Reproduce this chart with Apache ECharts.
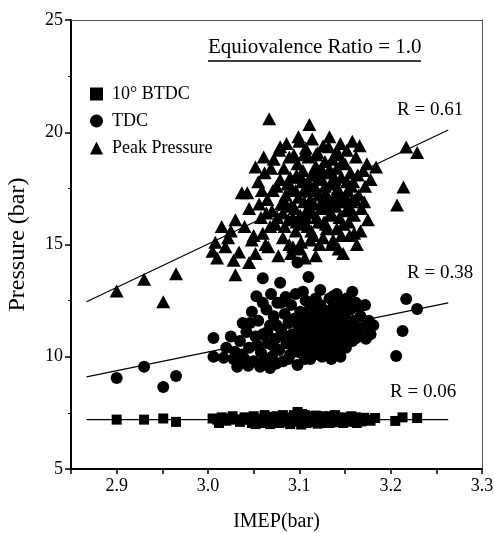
<!DOCTYPE html>
<html>
<head>
<meta charset="utf-8">
<script src="https://cdn.jsdelivr.net/npm/echarts@6/dist/echarts.min.js"></script>
<style>
html, body { margin: 0; padding: 0; background: #fff; }
#chart1 { width: 495px; height: 533px; }
</style>
</head>
<body>
<div id="chart1"></div>
<script>
// data: [IMEP, pressure]
var btdcPoints = [
    [2.900,7.20],[2.930,7.20],[2.951,7.25],[2.965,7.10],[3.183,7.27],[3.205,7.14],[3.213,7.30],[3.229,7.27],[3.098,7.54],
    [3.005,7.25],[3.010,7.20],[3.015,7.30],[3.020,7.15],[3.025,7.25],[3.030,7.20],[3.035,7.10],[3.040,7.30],[3.045,7.20],
    [3.048,7.05],[3.050,7.35],[3.054,7.15],[3.057,7.25],[3.060,7.05],[3.062,7.40],[3.065,7.20],[3.068,7.00],[3.070,7.30],
    [3.072,7.15],[3.075,7.35],[3.078,7.05],[3.080,7.25],[3.082,7.40],[3.085,7.10],[3.087,7.30],[3.090,7.00],[3.092,7.20],
    [3.094,7.40],[3.096,7.10],[3.100,7.30],[3.102,6.98],[3.104,7.20],[3.106,7.40],[3.108,7.05],[3.110,7.25],[3.112,7.35],
    [3.114,7.10],[3.116,7.20],[3.118,7.38],[3.120,7.02],[3.122,7.28],[3.124,7.15],[3.126,7.35],[3.128,7.05],[3.130,7.25],
    [3.132,7.15],[3.134,7.35],[3.136,7.08],[3.138,7.22],[3.140,7.32],[3.142,7.12],[3.145,7.25],[3.148,7.05],[3.150,7.30],
    [3.153,7.15],[3.156,7.25],[3.159,7.10],[3.162,7.30],[3.165,7.20],[3.168,7.12],[3.171,7.28],[3.175,7.20],[3.178,7.15],
    [3.012,7.05],[3.027,7.35],[3.038,7.20],[3.052,7.00],[3.067,7.32],[3.077,7.18],[3.088,7.08],[3.098,7.22],[3.103,7.45],
    [3.109,7.12],[3.115,7.30],[3.121,7.15],[3.127,7.22],[3.133,7.05],[3.139,7.40],[3.144,7.10],[3.151,7.22],[3.157,7.35],
    [3.163,7.05],[3.170,7.18]
];
var tdcPoints = [
    [2.900,9.05],[2.930,9.55],[2.951,8.65],[2.965,9.14],[3.006,10.83],[3.217,12.57],[3.229,12.13],[3.213,11.15],[3.206,10.03],
    [3.181,11.40],[3.098,14.20],[3.060,13.50],[3.079,13.30],[3.110,13.55],[3.123,12.97],[3.085,12.66],[3.060,12.40],[3.038,11.50],
    [3.006,10.00],[3.017,9.95],[3.032,9.55],[3.057,9.55],[3.068,9.50],[3.098,9.63],[3.158,12.90],[3.145,10.00],
    [3.020,10.40],[3.025,10.90],[3.030,10.20],[3.035,10.70],[3.040,9.90],[3.042,11.10],[3.045,10.40],[3.048,12.00],[3.050,9.80],
    [3.052,10.90],[3.055,11.60],[3.058,10.20],[3.060,11.00],[3.062,9.90],[3.064,12.10],[3.066,10.60],[3.068,11.40],[3.070,10.00],
    [3.072,11.80],[3.074,10.80],[3.076,12.40],[3.078,10.30],[3.080,11.20],[3.082,9.80],[3.084,11.90],[3.086,10.60],[3.088,11.50],
    [3.090,10.10],[3.091,12.30],[3.092,11.00],[3.094,10.50],[3.095,11.70],[3.096,12.80],[3.098,10.90],[3.099,11.40],[3.100,10.20],
    [3.101,12.00],[3.102,11.10],[3.104,10.60],[3.105,11.80],[3.106,9.90],[3.107,12.50],[3.108,11.30],[3.109,10.80],[3.110,11.60],
    [3.111,10.30],[3.112,12.20],[3.113,11.00],[3.114,10.70],[3.115,11.90],[3.116,10.40],[3.117,11.40],[3.118,12.60],[3.119,10.90],
    [3.120,11.20],[3.121,10.10],[3.122,11.70],[3.123,12.30],[3.124,10.60],[3.125,11.50],[3.126,11.00],[3.127,10.40],[3.128,12.00],
    [3.129,11.30],[3.130,10.80],[3.131,11.80],[3.132,10.20],[3.133,12.60],[3.134,11.10],[3.135,10.50],[3.136,11.60],[3.137,12.20],
    [3.138,10.90],[3.139,11.40],[3.140,10.30],[3.141,12.80],[3.142,11.00],[3.143,11.70],[3.144,10.60],[3.146,12.40],[3.147,11.20],
    [3.148,10.80],[3.150,11.90],[3.151,10.40],[3.152,12.60],[3.153,11.40],[3.155,11.00],[3.156,12.10],[3.158,10.70],[3.160,11.60],
    [3.162,12.40],[3.163,11.20],[3.165,10.90],[3.167,11.80],[3.170,11.30],[3.173,10.80],[3.176,11.60],
    [3.085,10.90],[3.093,11.60],[3.097,10.40],[3.103,11.50],[3.106,10.90],[3.110,12.00],[3.115,11.20],[3.119,11.70],[3.122,10.80],
    [3.126,12.10],[3.130,11.50],[3.133,10.90],[3.137,11.90],[3.140,11.20],[3.144,12.00],[3.148,11.50],[3.152,10.90],[3.157,11.30],
    [3.161,10.80],[3.166,12.20],[3.075,11.40],[3.080,12.40],[3.071,10.50],[3.065,11.10],[3.054,10.50],[3.046,11.50],[3.037,10.10],
    [3.028,9.90],[3.112,9.90],[3.125,10.00],[3.135,9.90],[3.172,12.30],[3.178,11.00],
    [3.044,9.60],[3.075,9.70],[3.088,9.90],[3.053,12.70],[3.069,12.80],[3.104,12.90],[3.137,12.70],[3.149,12.30]
];
var peakPoints = [
    [2.900,12.93],[2.930,13.45],[2.951,12.45],[2.965,13.70],[3.030,13.65],[3.067,20.60],[3.111,20.35],[3.184,18.45],[3.207,16.76],
    [3.214,17.56],[3.217,19.34],[3.229,19.10],[3.037,17.30],[3.052,18.45],[3.061,18.90],[3.079,19.35],[3.099,19.80],[3.132,19.35],
    [3.008,15.10],[3.010,14.40],[3.019,14.90],[3.005,14.70],[3.034,14.67],[3.045,14.20],[3.025,15.60],[3.030,16.10],[3.022,15.30],
    [3.040,15.80],[3.045,16.60],[3.048,15.20],[3.052,14.60],[3.055,17.80],[3.058,16.20],[3.060,15.50],[3.062,18.20],[3.065,17.00],
    [3.066,14.90],[3.070,16.50],[3.072,18.80],[3.074,15.90],[3.075,17.60],[3.078,19.20],[3.080,16.80],[3.082,15.30],[3.083,18.40],
    [3.085,17.20],[3.086,19.50],[3.088,16.10],[3.090,18.00],[3.091,14.60],[3.092,17.50],[3.094,19.00],[3.095,16.60],[3.096,15.60],
    [3.098,18.60],[3.099,17.10],[3.100,19.60],[3.101,16.30],[3.102,15.10],[3.103,17.80],[3.104,18.30],[3.105,16.90],[3.106,14.40],
    [3.107,19.30],[3.108,17.40],[3.109,15.80],[3.110,18.90],[3.111,16.50],[3.112,17.00],[3.113,18.10],[3.114,19.70],[3.115,15.40],
    [3.116,16.80],[3.117,17.60],[3.118,18.50],[3.119,16.20],[3.120,19.10],[3.121,17.20],[3.122,15.00],[3.123,18.00],[3.124,16.60],
    [3.125,17.90],[3.126,19.40],[3.127,16.00],[3.128,18.70],[3.129,17.30],[3.130,15.70],[3.131,18.20],[3.132,16.90],[3.133,19.80],
    [3.134,17.70],[3.135,16.40],[3.136,18.80],[3.137,15.20],[3.138,17.10],[3.139,19.00],[3.140,16.70],[3.141,18.40],[3.142,17.50],
    [3.143,14.80],[3.144,16.20],[3.145,19.50],[3.146,18.00],[3.147,17.00],[3.148,15.90],[3.150,18.60],[3.151,16.50],[3.152,19.20],
    [3.153,17.40],[3.155,15.40],[3.156,18.20],[3.157,16.90],[3.158,19.60],[3.159,17.80],[3.160,16.30],[3.162,18.90],[3.163,15.00],
    [3.165,17.20],[3.166,19.40],[3.168,16.60],[3.170,18.30],[3.172,17.60],[3.175,16.10],
    [3.050,15.40],[3.063,15.00],[3.077,14.50],[3.084,15.80],[3.093,14.90],[3.097,16.00],
    [3.082,16.40],[3.087,17.70],[3.093,16.20],[3.097,18.10],[3.103,15.90],[3.106,17.50],[3.109,16.60],[3.113,15.60],[3.116,18.10],
    [3.119,17.40],[3.121,16.00],[3.124,18.40],[3.127,17.10],[3.129,15.90],[3.131,16.60],[3.134,18.30],[3.137,16.80],[3.139,17.90],
    [3.141,15.70],[3.144,17.30],[3.147,18.70],[3.149,16.90],[3.152,17.80],[3.154,16.00],[3.157,17.60],[3.161,17.00],[3.164,18.10],
    [3.167,15.60],[3.071,17.40],[3.076,16.20],[3.068,15.80],[3.089,15.00],[3.101,14.80],[3.112,15.20],[3.126,15.30],[3.135,15.00],
    [3.148,14.60],[3.160,15.50],[3.118,14.50],[3.171,16.90],[3.174,18.60],[3.178,17.90],[3.056,16.80],[3.043,17.30],[3.028,14.30],
    [3.015,15.80],
    [3.079,17.90],[3.084,16.90],[3.091,16.70],[3.096,17.40],[3.102,18.00],[3.107,16.20],[3.111,17.70],[3.115,16.40],[3.120,17.90],
    [3.125,16.90],[3.128,17.60],[3.133,16.30],[3.138,18.00],[3.143,16.90],[3.146,15.40],[3.151,17.10],[3.156,16.60],[3.064,16.40],
    [3.059,17.40],[3.069,18.40],[3.089,18.90],[3.105,19.00],[3.118,19.00],[3.142,19.10]
];
// fitted lines: x range and y at both ends
var fitX = [2.867, 3.263];
var peakFit = [12.45, 20.10];
var tdcFit = [9.10, 12.40];
var btdcFit = [7.20, 7.20];
var xTicks = [2.9, 3.0, 3.1, 3.2, 3.3];
var seriesNames = ['10° BTDC', 'TDC', 'Peak Pressure'];
var rLabels = ['R = 0.61', 'R = 0.38', 'R = 0.06'];

var font = '"Liberation Serif", "Times New Roman", serif';

function fitLine(ys) {
    return [[fitX[0], ys[0]], [fitX[1], ys[1]]];
}

var chart = echarts.init(document.getElementById('chart1'));
var option = {
    animation: false,
    backgroundColor: '#fff',
    textStyle: { fontFamily: font, color: '#000' },
    grid: { left: 71, right: 13, top: 20, bottom: 64, outerBoundsMode: 'none' },
    legend: {
        orient: 'vertical',
        left: 85,
        top: 80,
        itemWidth: 13,
        itemHeight: 13,
        itemGap: 9,
        textStyle: { fontFamily: font, fontSize: 18, color: '#000', padding: [0, 0, 0, 4] },
        data: [
            { name: seriesNames[0], icon: 'rect' },
            { name: seriesNames[1], icon: 'circle' },
            { name: seriesNames[2], icon: 'triangle' }
        ]
    },
    xAxis: [{
        type: 'value',
        min: 2.85,
        max: 3.3,
        interval: 0.05,
        name: 'IMEP(bar)',
        nameLocation: 'middle',
        nameGap: 43,
        nameTextStyle: { fontFamily: font, fontSize: 20, color: '#000' },
        axisLine: { lineStyle: { color: '#000', width: 2 } },
        axisTick: { show: true, inside: false, length: 5, lineStyle: { color: '#000', width: 1.5 } },
        axisLabel: {
            fontFamily: font, fontSize: 18, color: '#000', margin: 8,
            customValues: xTicks,
            formatter: function (v) { return v.toFixed(1); }
        },
        splitLine: { show: false }
    }, {
        type: 'value',
        position: 'top',
        min: 2.85,
        max: 3.3,
        axisLine: { lineStyle: { color: '#555', width: 1 } },
        axisTick: { show: false },
        axisLabel: { show: false },
        splitLine: { show: false }
    }],
    yAxis: [{
        type: 'value',
        min: 5,
        max: 25,
        interval: 5,
        name: 'Pressure (bar)',
        nameLocation: 'middle',
        nameGap: 41,
        nameTextStyle: { fontFamily: font, fontSize: 24, color: '#000' },
        axisLine: { lineStyle: { color: '#000', width: 2 } },
        axisTick: { show: true, length: 6, lineStyle: { color: '#000', width: 1.5 } },
        minorTick: { show: true, splitNumber: 2, length: 3, lineStyle: { color: '#000' } },
        axisLabel: { fontFamily: font, fontSize: 18, color: '#000', margin: 8 },
        splitLine: { show: false }
    }, {
        type: 'value',
        position: 'right',
        min: 5,
        max: 25,
        axisLine: { show: true, lineStyle: { color: '#555', width: 1 } },
        axisTick: { show: false },
        axisLabel: { show: false },
        splitLine: { show: false }
    }],
    series: [{
        name: seriesNames[2],
        type: 'scatter',
        symbol: 'triangle',
        symbolSize: [14, 13],
        itemStyle: { color: '#000', opacity: 1 },
        data: peakPoints
    }, {
        name: seriesNames[1],
        type: 'scatter',
        symbol: 'circle',
        symbolSize: 12,
        itemStyle: { color: '#000', opacity: 1 },
        data: tdcPoints
    }, {
        name: seriesNames[0],
        type: 'scatter',
        symbol: 'rect',
        symbolSize: 10,
        itemStyle: { color: '#000', opacity: 1 },
        data: btdcPoints
    }, {
        name: 'peakFit',
        type: 'line',
        symbol: 'none',
        lineStyle: { color: '#000', width: 1.2 },
        data: fitLine(peakFit)
    }, {
        name: 'tdcFit',
        type: 'line',
        symbol: 'none',
        lineStyle: { color: '#000', width: 1.2 },
        data: fitLine(tdcFit)
    }, {
        name: 'btdcFit',
        type: 'line',
        symbol: 'none',
        lineStyle: { color: '#000', width: 1.2 },
        data: fitLine(btdcFit)
    }],
    graphic: [{
        type: 'text',
        left: 208,
        top: 37,
        style: { text: 'Equiovalence Ratio = 1.0', font: '21px ' + font, fill: '#000' }
    }, {
        type: 'line',
        shape: { x1: 208, y1: 61, x2: 421, y2: 61 },
        style: { stroke: '#000', lineWidth: 1.5 }
    }, {
        type: 'text',
        left: 397,
        top: 101,
        style: { text: rLabels[0], font: '19px ' + font, fill: '#000' }
    }, {
        type: 'text',
        left: 407,
        top: 264,
        style: { text: rLabels[1], font: '19px ' + font, fill: '#000' }
    }, {
        type: 'text',
        left: 390,
        top: 383,
        style: { text: rLabels[2], font: '19px ' + font, fill: '#000' }
    }]
};
chart.setOption(option);
</script>
</body>
</html>
